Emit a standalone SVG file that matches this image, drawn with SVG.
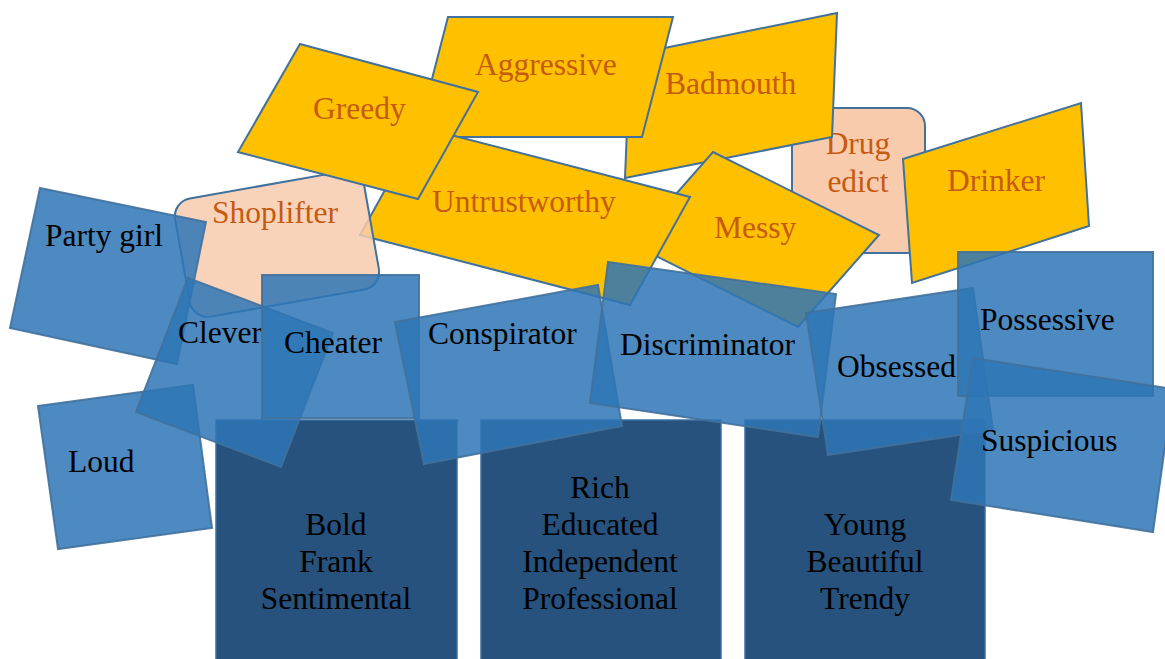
<svg xmlns="http://www.w3.org/2000/svg" width="1165" height="659" viewBox="0 0 1165 659">
<style>
.dark{fill:#26527d;stroke:#3b6fa3;stroke-width:1.5}
.peach{fill:#f8cbad;stroke:#41719c;stroke-width:2}
.yel{fill:#ffc000;stroke:#41719c;stroke-width:2}
.blue{fill:#2e75b6;fill-opacity:.85;stroke:#41719c;stroke-opacity:.9;stroke-width:2}
text{font-family:"Liberation Serif","Times New Roman",serif;font-size:31.5px;fill:#000}
.o{fill:#c55a11}
.m{text-anchor:middle}
</style>
<rect width="1165" height="659" fill="#fff"/>
<g id="bold"><rect class="dark" x="216" y="420" width="241" height="245"/>
<text class="m" x="336" y="535">Bold</text><text class="m" x="336" y="572">Frank</text><text class="m" x="336" y="609">Sentimental</text></g>
<g id="rich"><rect class="dark" x="481" y="420" width="240" height="245"/>
<text class="m" x="600" y="498">Rich</text><text class="m" x="600" y="535">Educated</text><text class="m" x="600" y="572">Independent</text><text class="m" x="600" y="609">Professional</text></g>
<g id="young"><rect class="dark" x="745" y="420" width="240" height="245"/>
<text class="m" x="865" y="535">Young</text><text class="m" x="865" y="572">Beautiful</text><text class="m" x="865" y="609">Trendy</text></g>
<g id="drugedict"><rect class="peach" x="792" y="108" width="133" height="145" rx="18"/>
<text class="o m" x="858" y="154">Drug</text><text class="o m" x="858" y="192">edict</text></g>
<g id="badmouth"><polygon class="yel" points="630,55 837,13 832,137 625,178"/>
<text class="o" x="665" y="94">Badmouth</text></g>
<g id="aggressive"><polygon class="yel" points="448,17 673,17 642,137 417,137"/>
<text class="o" x="475" y="75">Aggressive</text></g>
<g id="messy"><polygon class="yel" points="713,152 879,235 798,327 632,244"/>
<text class="o" x="714" y="238">Messy</text></g>
<g id="untrustworthy"><polygon class="yel" points="420,127 690,197 630,305 360,235"/>
<text class="o" x="432" y="212">Untrustworthy</text></g>
<g id="shoplifter"><rect class="peach" style="fill-opacity:.85" x="181" y="184" width="192" height="120" rx="18" transform="rotate(-10 277 244)"/>
<text class="o" x="212" y="223">Shoplifter</text></g>
<g id="greedy"><polygon class="yel" points="300,44 478,92 418,199 238,152"/>
<text class="o" x="313" y="119">Greedy</text></g>
<g id="drinker"><polygon class="yel" points="903,159 1081,103 1089,226 912,283"/>
<text class="o" x="947" y="191">Drinker</text></g>
<g id="partygirl"><polygon class="blue" points="40,188 206,222 177,364 10,328"/>
<text x="45" y="246">Party girl</text></g>
<g id="loud"><polygon class="blue" points="38,406 193,385 212,528 58,549"/>
<text x="68" y="472">Loud</text></g>
<g id="clever"><polygon class="blue" points="188,278 333,333 281,467 136,412"/>
<text x="178" y="343">Clever</text></g>
<g id="cheater"><rect class="blue" x="262" y="275" width="157" height="143"/>
<text x="284" y="353">Cheater</text></g>
<g id="conspirator"><polygon class="blue" points="395,322 598,285 622,426 424,464"/>
<text x="428" y="344">Conspirator</text></g>
<g id="discriminator"><polygon class="blue" points="608,262 836,294 818,437 590,403"/>
<text x="620" y="355">Discriminator</text></g>
<g id="obsessed"><polygon class="blue" points="806,313 973,288 993,430 828,455"/>
<text x="837" y="377">Obsessed</text></g>
<g id="possessive"><rect class="blue" x="958" y="252" width="195" height="144"/>
<text x="980" y="330">Possessive</text></g>
<g id="suspicious"><polygon class="blue" points="973,358 1173,389 1153,532 951,500"/>
<text x="981" y="451">Suspicious</text></g>
</svg>
